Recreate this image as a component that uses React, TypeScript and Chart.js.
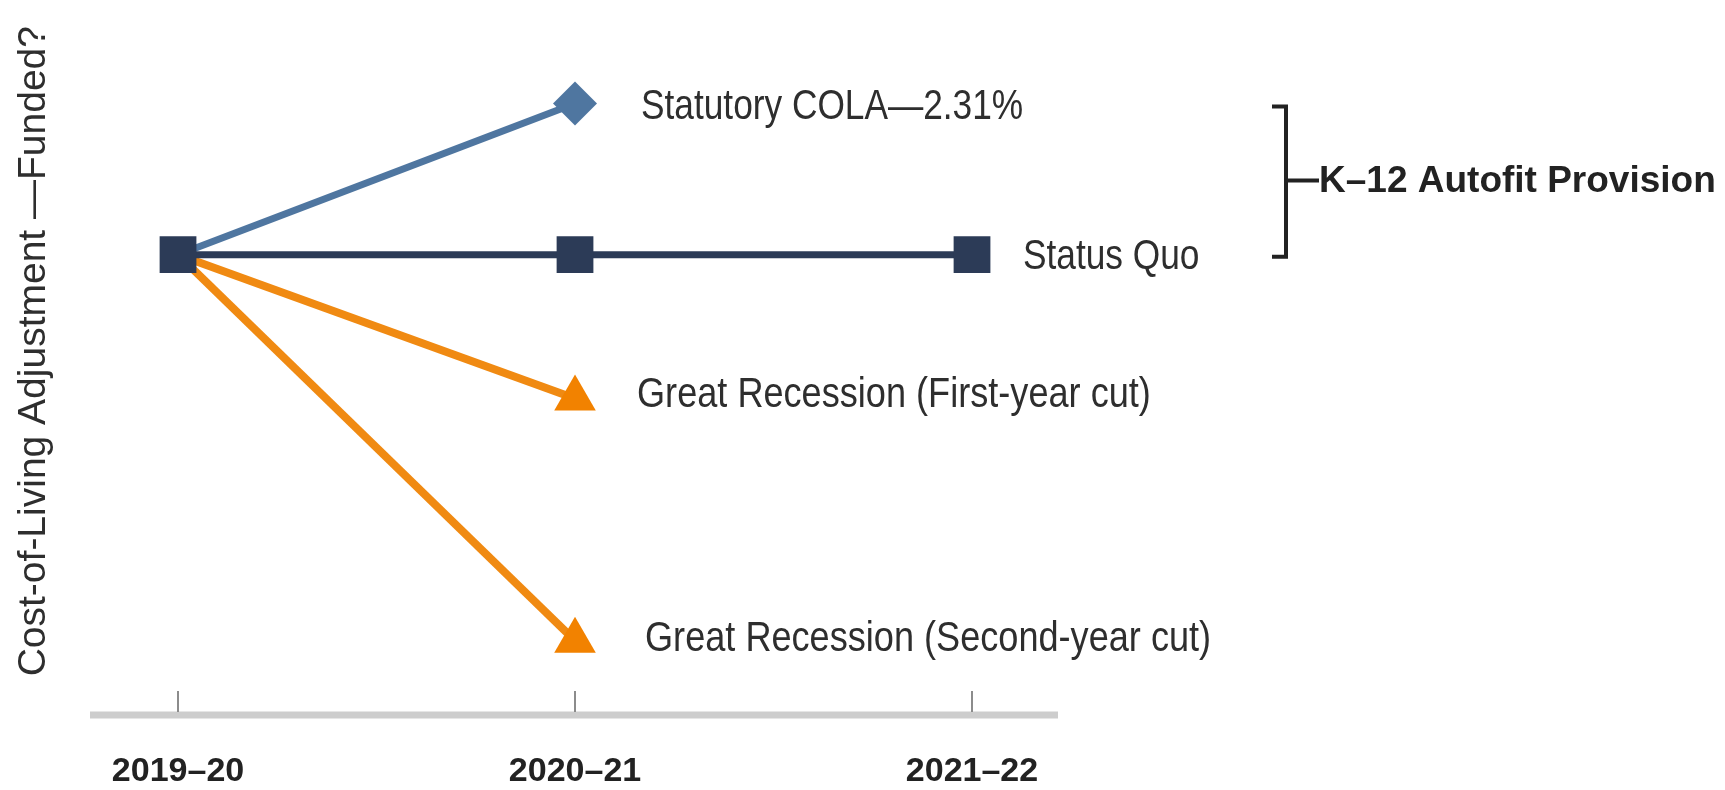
import React, { useEffect, useRef } from 'react';
import { Chart, registerables } from 'chart.js';

Chart.register(...registerables);

// ---- data ----
const categories = ['2019–20', '2020–21', '2021–22'];
const statusQuo: (number | null)[] = [0, 0, 0];
const statutoryCola: (number | null)[] = [0, 2.31, null];
const firstYearCut: (number | null)[] = [0, -2.2, null];
const secondYearCut: (number | null)[] = [0, -5.9, null];
const seriesNames = [
  'Status Quo',
  'Statutory COLA—2.31%',
  'Great Recession (First-year cut)',
  'Great Recession (Second-year cut)',
];
const bracketLabel = 'K–12 Autofit Provision';
const yAxisTitle = 'Cost-of-Living Adjustment —Funded?';

const FONT = "'Liberation Sans', Arial, Helvetica, sans-serif";

const toPoints = (arr: (number | null)[]) =>
  arr.map((v, i) => ({ x: i, y: v })).filter((p) => p.y !== null);

const labelStyle = [
  { dx: 51, dy: 2, sx: 0.82 },
  { dx: 66, dy: 4, sx: 0.82 },
  { dx: 62, dy: -3, sx: 0.84 },
  { dx: 70, dy: -2, sx: 0.84 },
];

const annotations = {
  id: 'annotations',
  beforeDatasetsDraw(chart: any) {
    const { ctx, chartArea } = chart;
    const xs = chart.scales.x;
    ctx.save();
    ctx.strokeStyle = '#cdcdcd';
    ctx.lineWidth = 7;
    ctx.beginPath();
    ctx.moveTo(chartArea.left, chartArea.bottom);
    ctx.lineTo(chartArea.right, chartArea.bottom);
    ctx.stroke();
    ctx.strokeStyle = '#8c8c8c';
    ctx.lineWidth = 2;
    categories.forEach((_, i) => {
      const px = xs.getPixelForValue(i);
      ctx.beginPath();
      ctx.moveTo(px, chartArea.bottom - 24);
      ctx.lineTo(px, chartArea.bottom - 3);
      ctx.stroke();
    });
    ctx.restore();
  },
  afterDatasetsDraw(chart: any) {
    const { ctx, chartArea } = chart;
    ctx.save();
    ctx.fillStyle = '#2e2e2e';
    ctx.font = `43px ${FONT}`;
    ctx.textBaseline = 'middle';
    ctx.textAlign = 'left';
    chart.data.datasets.forEach((ds: any, i: number) => {
      const meta = chart.getDatasetMeta(i);
      const last = meta.data[meta.data.length - 1];
      const st = labelStyle[i];
      ctx.save();
      ctx.translate(last.x + st.dx, last.y + st.dy);
      ctx.scale(st.sx, 1);
      ctx.fillText(ds.label, 0, 0);
      ctx.restore();
    });
    // bracket
    const ys = chart.scales.y;
    const top = ys.getPixelForValue(statutoryCola[1] as number) + 3;
    const bottom = ys.getPixelForValue(statusQuo[2] as number) + 2;
    const bx = chartArea.right + 228;
    const mid = (top + bottom) / 2 - 1;
    ctx.strokeStyle = '#222222';
    ctx.lineWidth = 4;
    ctx.lineJoin = 'miter';
    ctx.beginPath();
    ctx.moveTo(bx - 14, top);
    ctx.lineTo(bx, top);
    ctx.lineTo(bx, bottom);
    ctx.lineTo(bx - 14, bottom);
    ctx.stroke();
    ctx.beginPath();
    ctx.moveTo(bx, mid);
    ctx.lineTo(bx + 33, mid);
    ctx.stroke();
    ctx.fillStyle = '#222222';
    ctx.font = `bold 37px ${FONT}`;
    ctx.fillText(bracketLabel, bx + 33, mid + 1);
    ctx.restore();
  },
};

export default function App() {
  const ref = useRef<HTMLCanvasElement | null>(null);
  useEffect(() => {
    if (!ref.current) return;
    const navy = '#2c3b57';
    const steel = '#4f76a0';
    const orange = '#f08a12';
    const chart = new Chart(ref.current, {
      type: 'line',
      data: {
        datasets: [
          {
            label: seriesNames[0],
            data: toPoints(statusQuo) as any,
            borderColor: navy,
            backgroundColor: navy,
            borderWidth: 7,
            pointStyle: 'rect',
            pointRadius: 26,
            pointBorderWidth: 0,
            pointBackgroundColor: navy,
          },
          {
            label: seriesNames[1],
            data: toPoints(statutoryCola) as any,
            borderColor: steel,
            backgroundColor: steel,
            borderWidth: 7,
            pointStyle: 'rectRot',
            pointRadius: [0, 22],
            pointBorderWidth: 0,
            pointBackgroundColor: steel,
          },
          {
            label: seriesNames[2],
            data: toPoints(firstYearCut) as any,
            borderColor: orange,
            backgroundColor: orange,
            borderWidth: 8,
            pointStyle: 'triangle',
            pointRadius: [0, 24],
            pointBorderWidth: 0,
            pointBackgroundColor: '#f28200',
          },
          {
            label: seriesNames[3],
            data: toPoints(secondYearCut) as any,
            borderColor: orange,
            backgroundColor: orange,
            borderWidth: 8,
            pointStyle: 'triangle',
            pointRadius: [0, 24],
            pointBorderWidth: 0,
            pointBackgroundColor: '#f28200',
          },
        ],
      },
      options: {
        animation: false,
        responsive: true,
        maintainAspectRatio: false,
        layout: { padding: { top: 22, right: 667, left: 0, bottom: 0 } },
        plugins: {
          legend: { display: false },
          tooltip: { enabled: false },
          title: { display: false },
        },
        scales: {
          x: {
            type: 'linear',
            min: -0.2217,
            max: 2.2166,
            grid: { display: false, drawTicks: false },
            border: { display: false },
            ticks: {
              stepSize: 1,
              includeBounds: false,
              autoSkip: false,
              maxRotation: 0,
              padding: 36,
              color: '#222222',
              font: { family: FONT, size: 34, weight: 'bold', lineHeight: 1.2 },
              callback: (v: any) => (Number.isInteger(v) ? categories[v] ?? '' : ''),
            },
            afterFit: (s: any) => {
              s.height = 75;
            },
          },
          y: {
            type: 'linear',
            min: -7.036,
            max: 3.495,
            grid: { display: false },
            border: { display: false },
            ticks: { display: false },
            title: {
              display: true,
              text: yAxisTitle,
              align: 'end',
              color: '#2e2e2e',
              padding: { top: 15, bottom: 0 },
              font: { family: FONT, size: 39, weight: 'normal', lineHeight: 1 },
            },
            afterFit: (s: any) => {
              s.width = 90;
            },
          },
        },
      },
      plugins: [annotations],
    });
    return () => chart.destroy();
  }, []);
  return (
    <div style={{ position: 'fixed', left: 0, top: 0, width: 1725, height: 790, background: '#ffffff' }}>
      <canvas ref={ref} />
    </div>
  );
}
